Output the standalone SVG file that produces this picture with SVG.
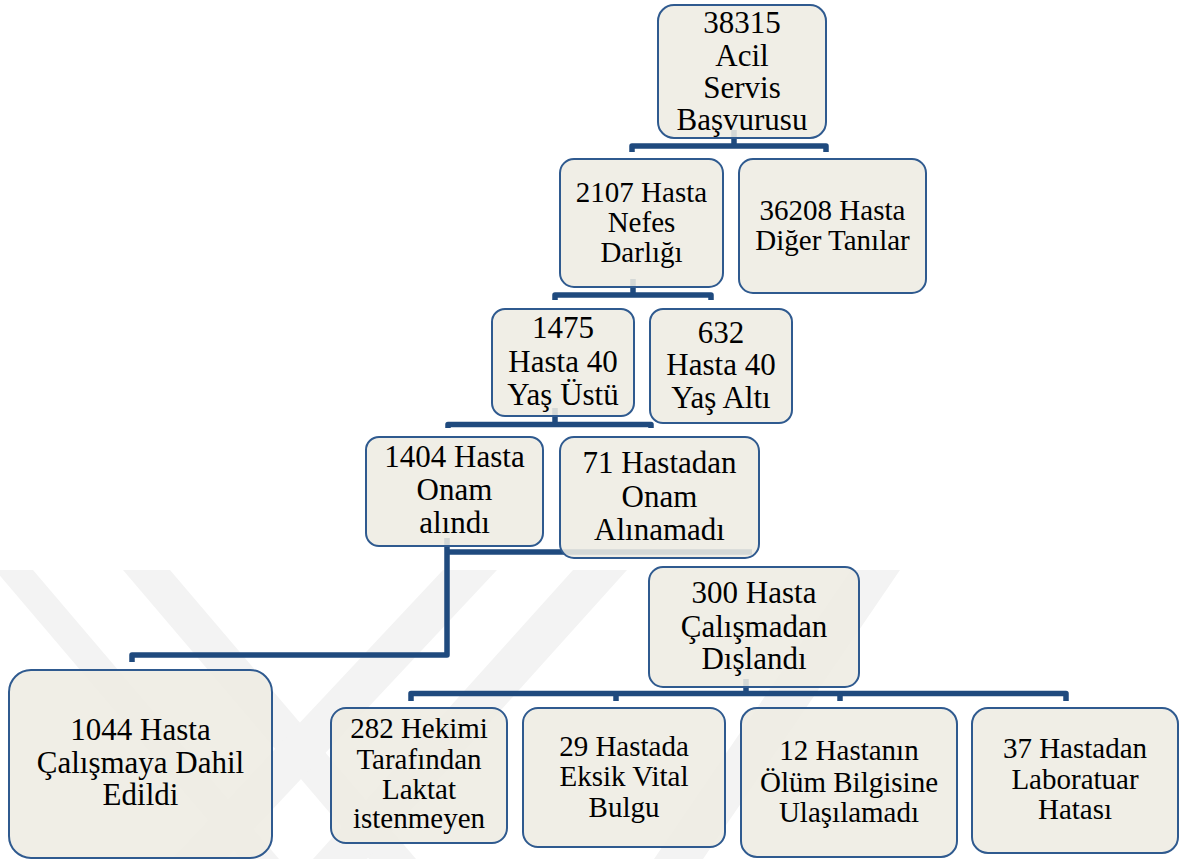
<svg xmlns="http://www.w3.org/2000/svg" width="1189" height="859" viewBox="0 0 1189 859">
<style>
.wm{fill:#f3f3f3}
.box{fill:#eeece2;fill-opacity:0.88;stroke:#2f5a8f;stroke-width:2}
.t{font-family:'Liberation Serif','Times New Roman',serif;fill:#000;text-anchor:middle}
.f31{font-size:31px}
.f29{font-size:29px}
.ln{fill:none;stroke:#1f4a7e;stroke-width:5.5;stroke-linejoin:round;stroke-linecap:butt}
</style>
<defs>
<clipPath id="wmclip"><rect x="0" y="570" width="1189" height="289"/></clipPath>
</defs>
<rect x="0" y="0" width="1189" height="859" fill="#ffffff"/>
<g id="watermark" clip-path="url(#wmclip)">
<polygon class="wm" points="-5,570 33,570 279,859 241,859"/>
<polygon class="wm" points="123,570 170,570 416,859 369,859"/>
<polygon class="wm" points="443,570 497,570 226,859 172,859"/>
<polygon class="wm" points="573,570 627,570 367,859 313,859"/>
<polygon class="wm" points="851,570 900,570 703,859 654,859"/>
</g>
<g id="connectors">
<path class="ln" d="M734,130 V146"/>
<path class="ln" d="M632,152 V146 H826 V152"/>
<path class="ln" d="M633,279 V295"/>
<path class="ln" d="M555,300 V295 H711 V300"/>
<path class="ln" d="M555,408 V424.5"/>
<path class="ln" d="M448,428 V424.5 H651 V428"/>
<path class="ln" d="M447,538 V655 H132 V662"/>
<path class="ln" d="M447,552 H752"/>
<path class="ln" d="M746,679 V693.5"/>
<path class="ln" d="M411,701 V693.5 H1066 V701"/>
<path class="ln" d="M616,693.5 V701"/>
<path class="ln" d="M840,693.5 V701"/>
</g>
<g id="n38315">
<rect class="box" x="658" y="5" width="168" height="133" rx="16"/>
<text class="t f31"><tspan x="742" y="33">38315</tspan><tspan x="742" y="65.5">Acil</tspan><tspan x="742" y="98">Servis</tspan><tspan x="742" y="130">Başvurusu</tspan></text>
</g>
<g id="n2107">
<rect class="box" x="560" y="159" width="163" height="128" rx="14"/>
<text class="t f29"><tspan x="641.5" y="202">2107 Hasta</tspan><tspan x="641.5" y="232">Nefes</tspan><tspan x="641.5" y="262">Darlığı</tspan></text>
</g>
<g id="n36208">
<rect class="box" x="739" y="159" width="187" height="134" rx="14"/>
<text class="t f29"><tspan x="832.5" y="220">36208 Hasta</tspan><tspan x="832.5" y="250">Diğer Tanılar</tspan></text>
</g>
<g id="n1475">
<rect class="box" x="492" y="309" width="142" height="107" rx="13"/>
<text class="t f31"><tspan x="563" y="338">1475</tspan><tspan x="563" y="372">Hasta 40</tspan><tspan x="563" y="405">Yaş Üstü</tspan></text>
</g>
<g id="n632">
<rect class="box" x="650" y="309" width="142" height="114" rx="13"/>
<text class="t f31"><tspan x="721" y="343">632</tspan><tspan x="721" y="375">Hasta 40</tspan><tspan x="721" y="408">Yaş Altı</tspan></text>
</g>
<g id="n1404">
<rect class="box" x="366" y="437" width="177" height="109" rx="13"/>
<text class="t f31"><tspan x="454.5" y="467">1404 Hasta</tspan><tspan x="454.5" y="500">Onam</tspan><tspan x="454.5" y="533">alındı</tspan></text>
</g>
<g id="n71">
<rect class="box" x="560" y="437" width="199" height="121" rx="14"/>
<text class="t f31"><tspan x="659.5" y="473">71 Hastadan</tspan><tspan x="659.5" y="507">Onam</tspan><tspan x="659.5" y="540">Alınamadı</tspan></text>
</g>
<g id="n300">
<rect class="box" x="649" y="567" width="210" height="120" rx="14"/>
<text class="t f31"><tspan x="754" y="603">300 Hasta</tspan><tspan x="754" y="637">Çalışmadan</tspan><tspan x="754" y="669">Dışlandı</tspan></text>
</g>
<g id="n1044">
<rect class="box" x="9" y="670" width="263" height="188" rx="22"/>
<text class="t f31"><tspan x="140.5" y="740">1044 Hasta</tspan><tspan x="140.5" y="773">Çalışmaya Dahil</tspan><tspan x="140.5" y="805">Edildi</tspan></text>
</g>
<g id="n282">
<rect class="box" x="331" y="708" width="176" height="135" rx="15"/>
<text class="t f29"><tspan x="419" y="738">282 Hekimi</tspan><tspan x="419" y="769">Tarafından</tspan><tspan x="419" y="799">Laktat</tspan><tspan x="419" y="828">istenmeyen</tspan></text>
</g>
<g id="n29">
<rect class="box" x="523" y="708" width="202" height="139" rx="15"/>
<text class="t f29"><tspan x="624" y="756">29 Hastada</tspan><tspan x="624" y="786">Eksik Vital</tspan><tspan x="624" y="817">Bulgu</tspan></text>
</g>
<g id="n12">
<rect class="box" x="741" y="708" width="216" height="149" rx="16"/>
<text class="t f29"><tspan x="849" y="760">12 Hastanın</tspan><tspan x="849" y="792">Ölüm Bilgisine</tspan><tspan x="849" y="822">Ulaşılamadı</tspan></text>
</g>
<g id="n37">
<rect class="box" x="972" y="708" width="206" height="145" rx="16"/>
<text class="t f29"><tspan x="1075" y="758">37 Hastadan</tspan><tspan x="1075" y="789">Laboratuar</tspan><tspan x="1075" y="819">Hatası</tspan></text>
</g>
</svg>
